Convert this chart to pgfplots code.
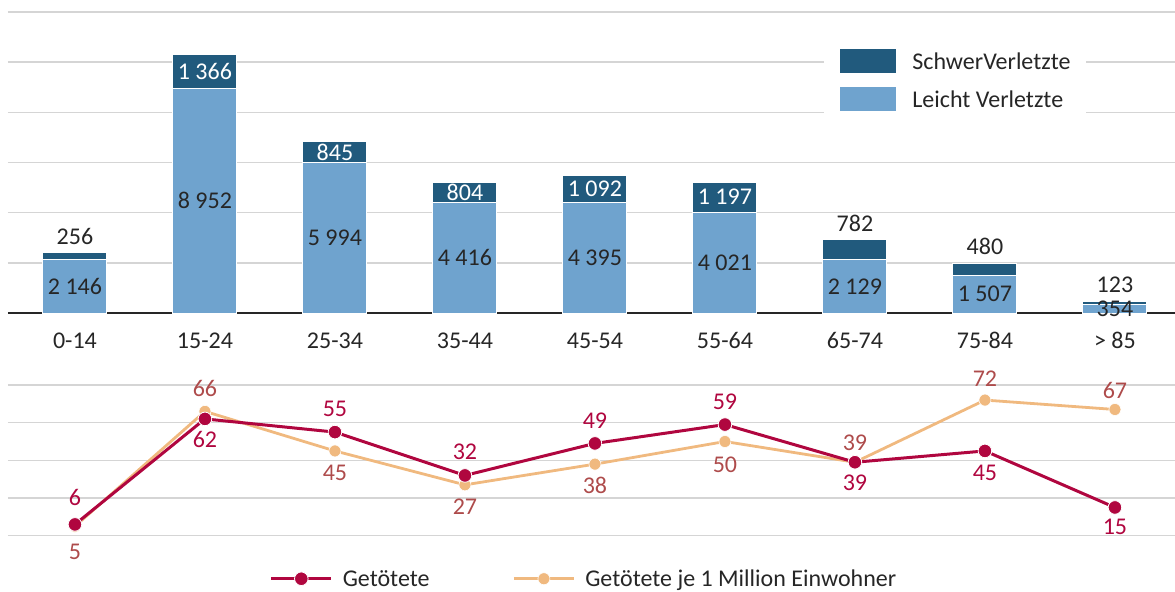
\documentclass[border=0pt]{standalone}
\usepackage{fontspec}
\setmainfont{Carlito}
\usepackage{xcolor}
\usepackage{pgfplots}
\usepackage{pgfplotstable}
\pgfplotsset{compat=1.18}

\definecolor{dunkel}{HTML}{215A7D}
\definecolor{hell}{HTML}{6FA3CE}
\definecolor{rot}{HTML}{B0063F}
\definecolor{pfirsich}{HTML}{F0B97F}
\definecolor{rotbraun}{HTML}{AE4B4B}
\definecolor{txt}{HTML}{262626}
\definecolor{gitter}{HTML}{D5D5D5}

\protected\def\w#1{\textcolor{white}{#1}}

% Verletzte nach Altersgruppe
\pgfplotstableread{
x leicht schwer innen llab slab
0 2146 256 0 2~146 256
1 8952 1366 1 8~952 \w{1~366}
2 5994 845 1 5~994 \w{845}
3 4416 804 1 4~416 \w{804}
4 4395 1092 1 4~395 \w{1~092}
5 4021 1197 1 4~021 \w{1~197}
6 2129 782 0 2~129 782
7 1507 480 0 1~507 480
8 354 123 0 354 123
}\verletzte

% Getoetete, dy = Lage der Beschriftung (pt)
\pgfplotstableread{
x tot tdy mio mdy
0 6 13.3 5 -12.9
1 62 -10.5 66 11.2
2 55 11.5 45 -11.2
3 32 11.6 27 -11
4 49 11.4 38 -10.5
5 59 11.4 50 -11.6
6 39 -10.5 39 9.5
7 45 -11 72 10.8
8 15 -9.5 67 9.5
}\getoetete

% 150.5pt fuer 12000 -> pt je Einheit / 2
\def\halb{0.00627083}

\begin{document}
\fontsize{12}{14}\selectfont
\begin{tikzpicture}[font=\fontsize{12}{14}\selectfont, text=txt]
\useasboundingbox (0,0) rectangle (587.5pt,-295.5pt);

\begin{axis}[
  at={(4pt,-156.5pt)}, anchor=south west,
  scale only axis, width=583.5pt, height=150.5pt,
  xmin=-0.515, xmax=8.462, ymin=0, ymax=12000,
  ybar stacked, bar width=32pt,
  axis lines*=left, axis line style={-},
  y axis line style={draw=none},
  x axis line style={draw=txt, line width=0.9pt},
  xtick={0,...,8},
  xticklabels={0-14,15-24,25-34,35-44,45-54,55-64,65-74,75-84,> 85},
  tick style={draw=none},
  xticklabel style={anchor=base, yshift=-17.6pt},
  ytick={0,2000,...,12000}, yticklabels={}, scaled y ticks=false,
  ymajorgrids, grid style={gitter, line width=0.7pt},
  clip=false,
  reverse legend,
  legend style={at={(0.6992,0.774)}, anchor=west, draw=none, fill=white,
    inner xsep=7.5pt, inner ysep=6pt, row sep=6pt,
    /tikz/every odd column/.append style={column sep=7.5pt},
    nodes={inner sep=0pt, anchor=base west}, cells={anchor=base west}},
  bl/.style={legend image code/.code={\fill[##1] (0pt,-2.1pt) rectangle (28.5pt,10.4pt);}},
]
\addplot[fill=hell, draw=white, line width=0.5pt, bl,
  nodes near coords, point meta=explicit symbolic,
  every node near coord/.append style={anchor=center, text=txt}]
  table[x=x, y=leicht, meta=llab] {\verletzte};
\addlegendentry{Leicht Verletzte}
\addplot[fill=dunkel, draw=white, line width=0.5pt, bl,
  nodes near coords, point meta=explicit symbolic,
  visualization depends on={(1-\thisrow{innen})*(\thisrow{schwer}*\halb+8.25) \as \sh},
  every node near coord/.append style={anchor=center, yshift=\sh pt, text=txt}]
  table[x=x, y=schwer, meta=slab] {\verletzte};
\addlegendentry{SchwerVerletzte}
\end{axis}

\begin{axis}[
  at={(4pt,-267.85pt)}, anchor=south west,
  scale only axis, width=583.5pt, height=75.35pt,
  xmin=-0.515, xmax=8.462, ymin=0, ymax=80,
  axis line style={draw=none}, tick style={draw=none},
  xtick=\empty, ytick={0,20,...,80}, yticklabels={},
  ymajorgrids, grid style={gitter, line width=0.7pt},
  clip=false,
  /pgf/number format/assume math mode=true,
  legend columns=2, reverse legend,
  legend style={at={(0.224,-0.294)}, anchor=west, draw=none, fill=none, inner sep=0pt,
    /tikz/every odd column/.append style={column sep=5pt},
    /tikz/every even column/.append style={column sep=41.5pt},
    nodes={inner sep=0pt, anchor=base west}, cells={anchor=base west}},
  legend image code/.code={\draw[mark repeat=2, mark phase=2, #1] plot coordinates {(0pt,3.9pt) (15pt,3.9pt) (30pt,3.9pt)};},
]
\addplot[pfirsich, line width=1.4pt, mark=*, mark size=3pt,
  mark options={fill=pfirsich, draw=white, line width=0.3pt},
  nodes near coords, point meta=y,
  visualization depends on={\thisrow{mdy} \as \dy},
  every node near coord/.append style={anchor=center, yshift=\dy pt, text=rotbraun}]
  table[x=x, y=mio] {\getoetete};
\addlegendentry{Getötete je 1 Million Einwohner}
\addplot[rot, line width=1.5pt, mark=*, mark size=3.4pt,
  mark options={fill=rot, draw=white, line width=0.4pt},
  nodes near coords, point meta=y,
  visualization depends on={\thisrow{tdy} \as \dy},
  every node near coord/.append style={anchor=center, yshift=\dy pt, text=rot}]
  table[x=x, y=tot] {\getoetete};
\addlegendentry{Getötete}
\end{axis}
\end{tikzpicture}
\end{document}
